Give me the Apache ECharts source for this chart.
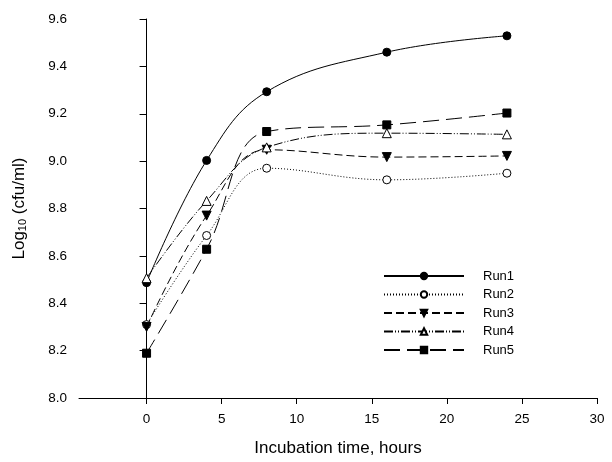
<!DOCTYPE html>
<html>
<head>
<meta charset="utf-8">
<script src="https://cdn.jsdelivr.net/npm/echarts@6/dist/echarts.min.js"></script>
<style>html,body{margin:0;padding:0;background:#fff}#c{width:612px;height:462px}</style>
</head>
<body>
<div id="c"></div>
<script>
const hours = [0, 4, 8, 16, 24];
const run1 = [8.487, 9.003, 9.293, 9.460, 9.529];
const run2 = [8.310, 8.686, 8.970, 8.921, 8.949];
const run3 = [8.300, 8.770, 9.048, 9.017, 9.022];
const run4 = [8.506, 8.832, 9.058, 9.118, 9.113];
const run5 = [8.189, 8.628, 9.125, 9.153, 9.203];
const seriesNames = ['Run1', 'Run2', 'Run3', 'Run4', 'Run5'];
const xTicks = [0, 5, 10, 15, 20, 25, 30];

const FONT = '"Liberation Sans", Arial, sans-serif';
const pair = arr => hours.map((h, i) => [h, arr[i]]);

function mk(name, data, symbol, filled, dash, extra) {
  return Object.assign({
    name: name,
    type: 'line',
    data: pair(data),
    smooth: 0.4,
    symbol: symbol,
    symbolSize: 8,
    showAllSymbol: true,
    lineStyle: { color: '#000', width: 1, type: dash },
    itemStyle: filled ? { color: '#000', borderColor: '#000', borderWidth: 1 }
                      : { color: '#fff', borderColor: '#000', borderWidth: 1 },
    emphasis: { disabled: true },
    animation: false
  }, extra || {});
}

const chart = echarts.init(document.getElementById('c'), null, { renderer: 'canvas' });
chart.setOption({
  backgroundColor: '#fff',
  animation: false,
  grid: { left: 79, right: 15, top: 19, bottom: 64, containLabel: false },
  legend: {
    orient: 'vertical',
    left: 378,
    top: 264,
    itemWidth: 80,
    itemHeight: 8,
    itemGap: 4.5,
    data: seriesNames,
    textStyle: { fontFamily: FONT, fontSize: 13, color: '#000', padding: [0, 0, 0, 14], lineHeight: 14 }
  },
  xAxis: {
    type: 'value',
    min: -4.5,
    max: 30,
    name: 'Incubation time, hours',
    nameLocation: 'middle',
    nameGap: 42,
    nameTextStyle: { fontFamily: FONT, fontSize: 17, color: '#000' },
    axisLine: { show: true, onZero: false, lineStyle: { color: '#000', width: 1 } },
    axisTick: { show: true, length: 6, lineStyle: { color: '#000' }, customValues: xTicks },
    axisLabel: { fontFamily: FONT, fontSize: 13.5, color: '#000', margin: 14, customValues: xTicks },
    splitLine: { show: false }
  },
  yAxis: {
    type: 'value',
    min: 8.0,
    max: 9.6,
    interval: 0.2,
    name: '{a|Log}{s|10}{a| (cfu/ml)}',
    nameLocation: 'middle',
    nameGap: 51,
    nameRotate: 90,
    nameTextStyle: {
      fontFamily: FONT, fontSize: 17, color: '#000',
      rich: {
        a: { fontFamily: FONT, fontSize: 17, color: '#000', lineHeight: 20, verticalAlign: 'bottom' },
        s: { fontFamily: FONT, fontSize: 11, color: '#000', lineHeight: 15, verticalAlign: 'bottom' }
      }
    },
    axisLine: { show: true, lineStyle: { color: '#000', width: 1 } },
    axisTick: { show: true, length: 7, lineStyle: { color: '#000' } },
    axisLabel: { fontFamily: FONT, fontSize: 13.5, color: '#000', margin: 12,
      formatter: v => v.toFixed(1) },
    splitLine: { show: false }
  },
  series: [
    mk('Run1', run1, 'circle', true, 'solid'),
    mk('Run2', run2, 'circle', false, [1, 2]),
    mk('Run3', run3, 'triangle', true, [8, 4], { symbolRotate: 180, symbolSize: 9 }),
    mk('Run4', run4, 'triangle', false, [9, 2, 1, 2, 1, 2], { symbolSize: 9 }),
    mk('Run5', run5, 'rect', true, [16, 7])
  ]
});
</script>
</body>
</html>
